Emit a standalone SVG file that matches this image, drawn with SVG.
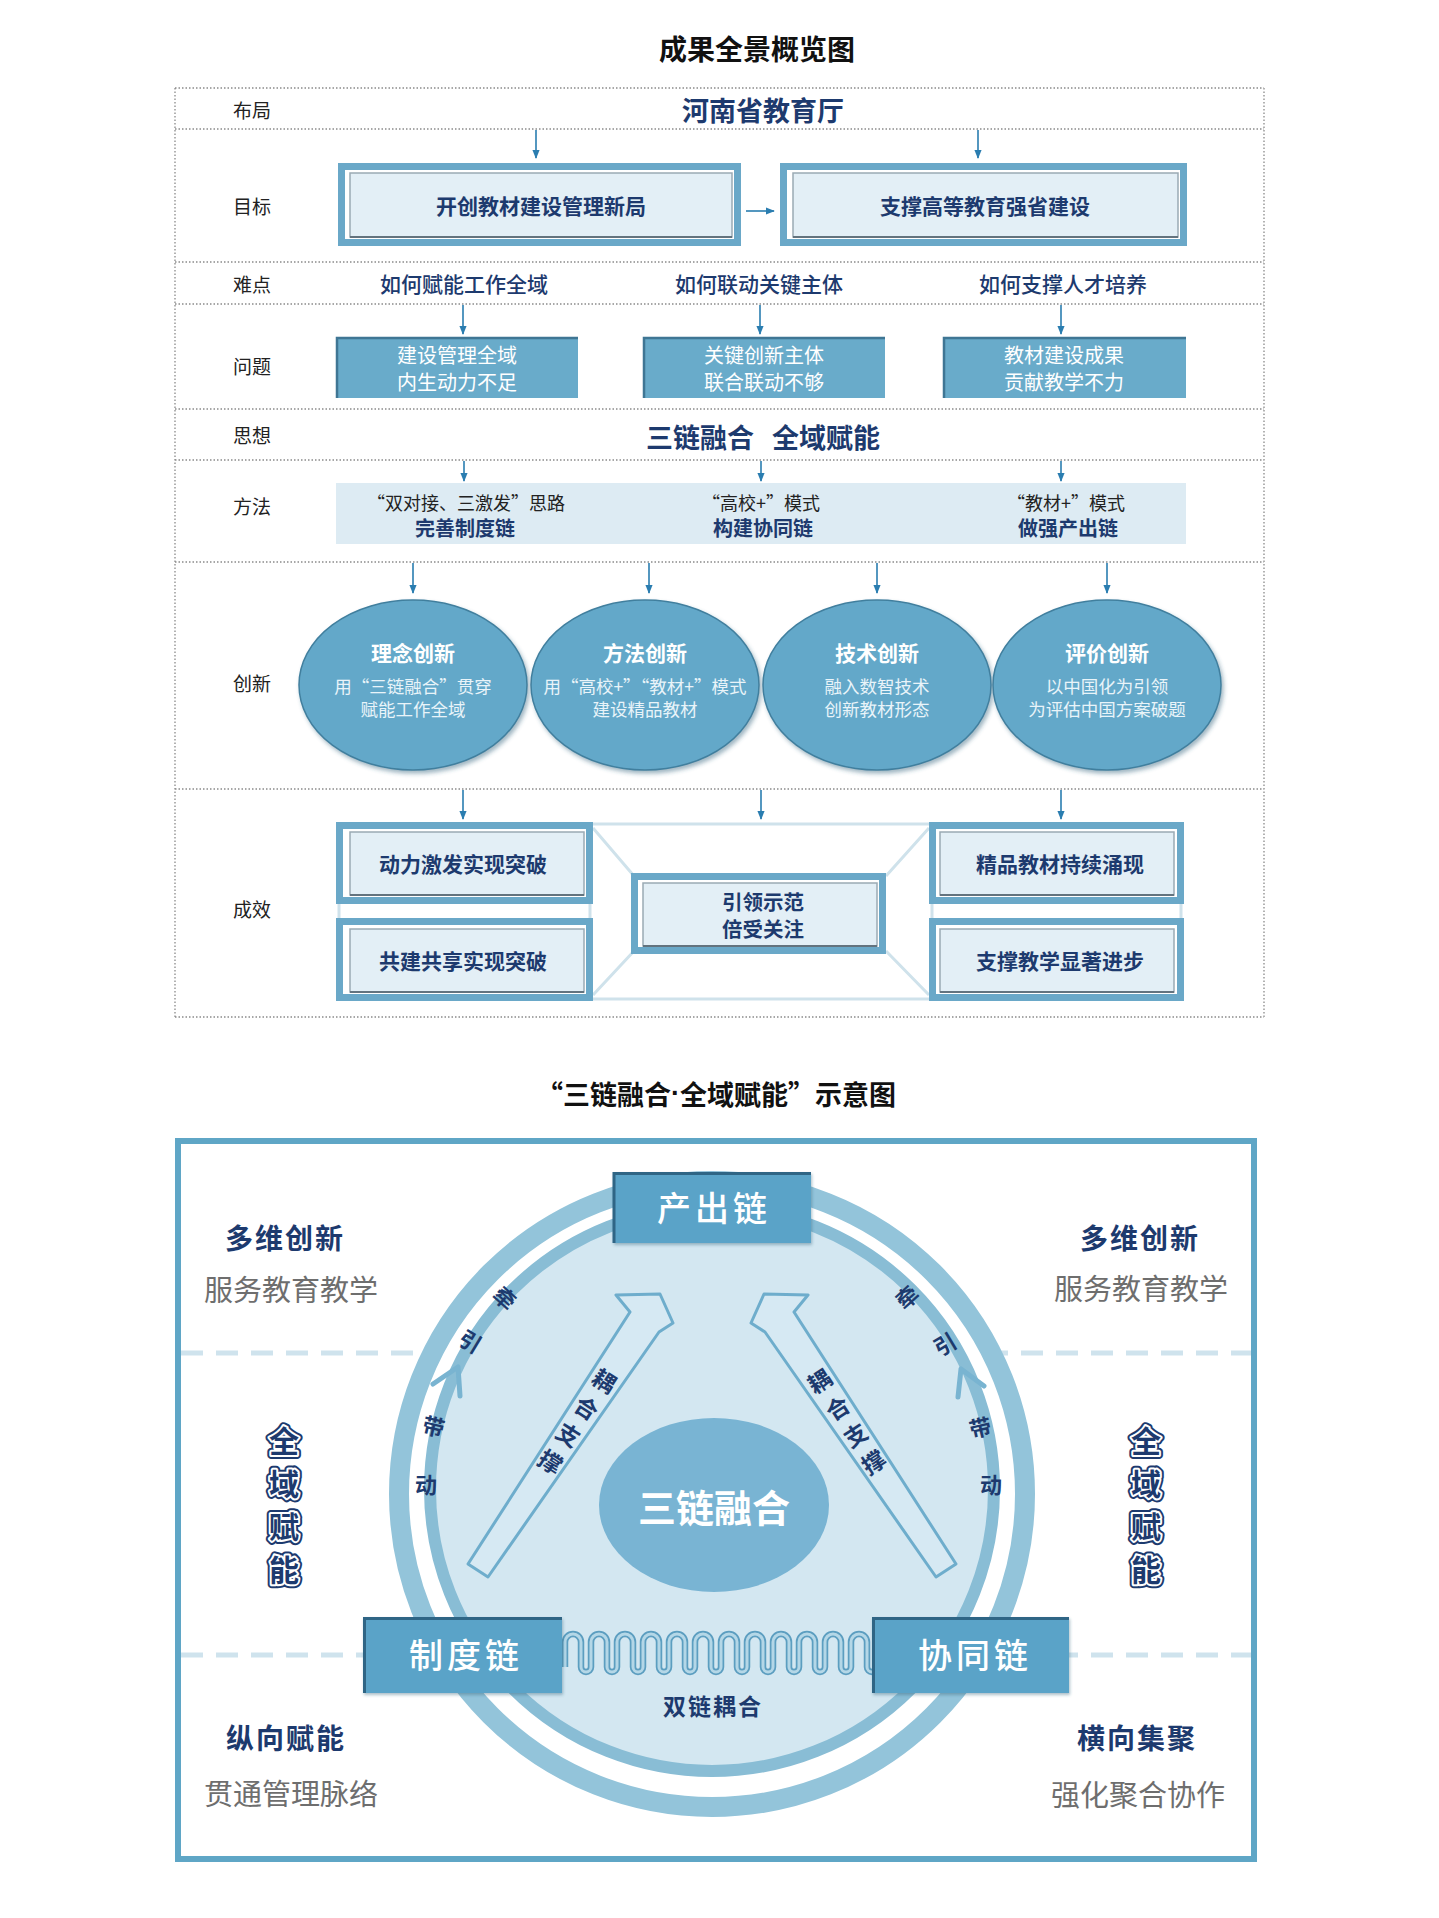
<svg xmlns="http://www.w3.org/2000/svg" width="1439" height="1918" viewBox="0 0 1439 1918">
<defs>
<marker id="ah" viewBox="0 0 10 10" refX="9" refY="5" markerWidth="9" markerHeight="9" markerUnits="userSpaceOnUse" orient="auto"><path d="M0,1 L10,5 L0,9 z" fill="#2a7db0"/></marker>
<filter id="sh" x="-10%" y="-10%" width="125%" height="130%"><feDropShadow dx="2" dy="3" stdDeviation="2" flood-color="#2f5f78" flood-opacity="0.45"/></filter>
<filter id="sh2" x="-10%" y="-10%" width="125%" height="130%"><feDropShadow dx="1" dy="2" stdDeviation="1.5" flood-color="#2f5f78" flood-opacity="0.4"/></filter>
</defs>
<style>
text{font-family:"Noto Sans CJK SC","Noto Sans",sans-serif;dominant-baseline:central;text-anchor:middle}
.t1{font-size:28px;font-weight:700;fill:#111}
.lb{font-size:19px;fill:#222}
.nvb{fill:#1d3a6e;font-weight:700}
.nv{fill:#1d3a6e;font-weight:500}
.dot{stroke:#8a8a8a;stroke-width:1.3;stroke-dasharray:1.5 2;fill:none}
.ar{stroke:#2a7db0;stroke-width:1.6;fill:none;marker-end:url(#ah)}
.gout{fill:#fff;stroke:#6aa8c8;stroke-width:7}
.gin{fill:#e3eff6;stroke:#9aaab4;stroke-width:1.5}
.gbt{stroke:#63737e;stroke-width:2;fill:none}
.pb{fill:#69abca}
.edge{stroke:#3f7694;stroke-width:2.5;fill:none}
.pt{font-size:20px;fill:#fff}
.m1{font-size:18px;fill:#222;font-weight:400}
.m2{font-size:20px;fill:#1d3a6e;font-weight:700}
.el{fill:#64a8c9;stroke:#417f9e;stroke-width:1.5}
.et{font-size:21px;font-weight:700;fill:#fff}
.es{font-size:17.5px;fill:#e9f4f9;font-weight:400}
.bt{font-size:21px}
.cn{stroke:#cfe2eb;stroke-width:3;fill:none}
.ch{fill:#5aa3c8}
.chedge{stroke:#2f6585;stroke-width:3;fill:none}
.cht{font-size:34px;fill:#fff;letter-spacing:4px;font-weight:500}
.hd{font-size:28px;letter-spacing:2px}
.gr{font-size:29px;fill:#6e6e6e}
.qy{font-size:30px;font-weight:700}
.rt{font-size:22px}
.st{font-size:23px}
</style>
<rect x="0" y="0" width="1439" height="1918" fill="#fff"/>

<g id="overview">
<text class="t1" x="757" y="48">成果全景概览图</text>
<g id="grid">
<path class="dot" d="M175 88H1264M175 129H1264M175 262H1264M175 304H1264M175 409H1264M175 460H1264M175 562H1264M175 789H1264M175 1017H1264M175 88V1017M1264 88V1017"/>
</g>
<g id="row-labels">
<text class="lb" x="252" y="109">布局</text>
<text class="lb" x="252" y="205">目标</text>
<text class="lb" x="252" y="283">难点</text>
<text class="lb" x="252" y="365">问题</text>
<text class="lb" x="252" y="434">思想</text>
<text class="lb" x="252" y="505">方法</text>
<text class="lb" x="252" y="682">创新</text>
<text class="lb" x="252" y="908">成效</text>
</g>
<g id="connectors">
<line class="ar" x1="536" y1="130" x2="536" y2="158"/>
<line class="ar" x1="978" y1="130" x2="978" y2="158"/>
<line class="ar" x1="746" y1="211" x2="774" y2="211"/>
<line class="ar" x1="463" y1="305" x2="463" y2="334"/>
<line class="ar" x1="760" y1="305" x2="760" y2="334"/>
<line class="ar" x1="1061" y1="305" x2="1061" y2="334"/>
<line class="ar" x1="464" y1="461" x2="464" y2="481"/>
<line class="ar" x1="761" y1="461" x2="761" y2="481"/>
<line class="ar" x1="1061" y1="461" x2="1061" y2="481"/>
<line class="ar" x1="413" y1="563" x2="413" y2="593"/>
<line class="ar" x1="649" y1="563" x2="649" y2="593"/>
<line class="ar" x1="877" y1="563" x2="877" y2="593"/>
<line class="ar" x1="1107" y1="563" x2="1107" y2="593"/>
<line class="ar" x1="463" y1="790" x2="463" y2="819"/>
<line class="ar" x1="761" y1="790" x2="761" y2="819"/>
<line class="ar" x1="1061" y1="790" x2="1061" y2="819"/>
</g>
<g id="n-layout"><text class="nvb" x="763" y="109" style="font-size:27px">河南省教育厅</text></g>
<g id="n-goal1">
<rect class="gout" x="341.5" y="166.5" width="396" height="76"/>
<rect class="gin" x="350" y="173" width="382" height="64"/>
<path class="gbt" d="M350 237H732"/>
<text class="nvb bt" x="541" y="205">开创教材建设管理新局</text>
</g>
<g id="n-goal2">
<rect class="gout" x="783.5" y="166.5" width="400" height="76"/>
<rect class="gin" x="793" y="173" width="385" height="64"/>
<path class="gbt" d="M793 237H1178"/>
<text class="nvb bt" x="985" y="205">支撑高等教育强省建设</text>
</g>
<g id="n-difficulty">
<text class="nv bt" x="464" y="283">如何赋能工作全域</text>
<text class="nv bt" x="759" y="283">如何联动关键主体</text>
<text class="nv bt" x="1063" y="283">如何支撑人才培养</text>
</g>
<g id="n-prob1">
<rect class="pb" x="336" y="337" width="242" height="61"/>
<path class="edge" d="M337 398V338H578"/>
<text class="pt" x="457" y="354.5">建设管理全域</text>
<text class="pt" x="457" y="381">内生动力不足</text>
</g>
<g id="n-prob2">
<rect class="pb" x="643" y="337" width="242" height="61"/>
<path class="edge" d="M644 398V338H885"/>
<text class="pt" x="764" y="354.5">关键创新主体</text>
<text class="pt" x="764" y="381">联合联动不够</text>
</g>
<g id="n-prob3">
<rect class="pb" x="943" y="337" width="243" height="61"/>
<path class="edge" d="M944 398V338H1186"/>
<text class="pt" x="1064" y="354.5">教材建设成果</text>
<text class="pt" x="1064" y="381">贡献教学不力</text>
</g>
<g id="n-thought"><text class="nvb" x="763" y="436" style="font-size:27px;word-spacing:12px">三链融合 全域赋能</text></g>
<g id="n-method">
<rect x="336" y="483" width="850" height="61" fill="#ddebf3"/>
<text class="m1" x="466" y="501.5">“双对接、三激发”思路</text>
<text class="m2" x="465" y="527">完善制度链</text>
<text class="m1" x="761" y="501.5">“高校+”模式</text>
<text class="m2" x="763" y="527">构建协同链</text>
<text class="m1" x="1066" y="501.5">“教材+”模式</text>
<text class="m2" x="1068" y="527">做强产出链</text>
</g>
<g id="n-inno1">
<ellipse class="el" cx="413" cy="685" rx="114" ry="85" filter="url(#sh)"/>
<text class="et" x="413" y="652">理念创新</text>
<text class="es" x="413" y="685">用“三链融合”贯穿</text>
<text class="es" x="413" y="708">赋能工作全域</text>
</g>
<g id="n-inno2">
<ellipse class="el" cx="645" cy="685" rx="114" ry="85" filter="url(#sh)"/>
<text class="et" x="645" y="652">方法创新</text>
<text class="es" x="645" y="685">用“高校+”“教材+”模式</text>
<text class="es" x="645" y="708">建设精品教材</text>
</g>
<g id="n-inno3">
<ellipse class="el" cx="877" cy="685" rx="114" ry="85" filter="url(#sh)"/>
<text class="et" x="877" y="652">技术创新</text>
<text class="es" x="877" y="685">融入数智技术</text>
<text class="es" x="877" y="708">创新教材形态</text>
</g>
<g id="n-inno4">
<ellipse class="el" cx="1107" cy="685" rx="114" ry="85" filter="url(#sh)"/>
<text class="et" x="1107" y="652">评价创新</text>
<text class="es" x="1107" y="685">以中国化为引领</text>
<text class="es" x="1107" y="708">为评估中国方案破题</text>
</g>
<g id="result-links">
<path class="cn" d="M593 824H929M593 999H929M593 828L634 876M886 876L929 828M593 995L634 951M886 951L929 995M339 904V918M590 904V918M932 904V918M1181 904V918"/>
</g>
<g id="n-res1">
<rect class="gout" x="339.5" y="825.5" width="250" height="75"/>
<rect class="gin" x="350" y="832" width="234" height="63"/>
<path class="gbt" d="M350 895H584"/>
<text class="nvb bt" x="463" y="863">动力激发实现突破</text>
</g>
<g id="n-res2">
<rect class="gout" x="339.5" y="921.5" width="250" height="76"/>
<rect class="gin" x="350" y="929" width="234" height="63"/>
<path class="gbt" d="M350 992H584"/>
<text class="nvb bt" x="463" y="960">共建共享实现突破</text>
</g>
<g id="n-res3">
<rect class="gout" x="634.5" y="876.5" width="248" height="74"/>
<rect class="gin" x="643" y="883" width="234" height="63"/>
<path class="gbt" d="M643 946H877"/>
<text class="nvb" x="763" y="901" style="font-size:20.5px">引领示范</text>
<text class="nvb" x="763" y="928" style="font-size:20.5px">倍受关注</text>
</g>
<g id="n-res4">
<rect class="gout" x="932.5" y="825.5" width="248" height="75"/>
<rect class="gin" x="940" y="832" width="234" height="63"/>
<path class="gbt" d="M940 895H1174"/>
<text class="nvb bt" x="1060" y="863">精品教材持续涌现</text>
</g>
<g id="n-res5">
<rect class="gout" x="932.5" y="921.5" width="248" height="76"/>
<rect class="gin" x="940" y="929" width="234" height="63"/>
<path class="gbt" d="M940 992H1174"/>
<text class="nvb bt" x="1060" y="960">支撑教学显著进步</text>
</g>
</g>

<g id="scheme">
<text class="t1" x="716" y="1093" style="font-size:27px">“三链融合<tspan style="font-family:'Liberation Sans',sans-serif">·</tspan>全域赋能”示意图</text>
<rect x="178" y="1141" width="1076" height="718" fill="#fff" stroke="#5fa6c6" stroke-width="6"/>
<path d="M181 1353H1251M181 1655H1251" stroke="#cfe3ed" stroke-width="5" stroke-dasharray="22 13" fill="none"/>
<circle cx="712" cy="1494" r="313" fill="#fff" stroke="#93c4da" stroke-width="20"/>
<circle cx="712" cy="1489" r="282" fill="#d3e7f1" stroke="#89bdd5" stroke-width="12"/>

<g id="ring-text">
<polyline points="433,1384 458,1367 460,1396" fill="none" stroke="#79b4d1" stroke-width="5" stroke-linecap="round" stroke-linejoin="round"/>
<polyline points="984,1386 961,1369 958,1397" fill="none" stroke="#79b4d1" stroke-width="5" stroke-linecap="round" stroke-linejoin="round"/>
<text class="nvb rt" x="506" y="1297" transform="rotate(42 506 1297)">牵</text>
<text class="nvb rt" x="471" y="1340" transform="rotate(31 471 1340)">引</text>
<text class="nvb rt" x="434" y="1425" transform="rotate(13 434 1425)">带</text>
<text class="nvb rt" x="426" y="1483">动</text>
<text class="nvb rt" x="906" y="1296" transform="rotate(-42 906 1296)">牵</text>
<text class="nvb rt" x="944" y="1343" transform="rotate(-31 944 1343)">引</text>
<text class="nvb rt" x="980" y="1426" transform="rotate(-13 980 1426)">带</text>
<text class="nvb rt" x="991" y="1483">动</text>
</g>

<g id="n-core">
<ellipse cx="714" cy="1505" rx="115" ry="87" fill="#79b4d3"/>
<text x="714" y="1505" style="font-size:38px;font-weight:700;fill:#fff">三链融合</text>
</g>

<g id="n-support-left">
<polygon points="468,1564 630,1312 616,1295 660,1294 673,1323 659,1332 488,1577" fill="#d6e9f3" stroke="#6eadcc" stroke-width="3" stroke-linejoin="round"/>
<text class="nvb st" x="605" y="1380" transform="rotate(33 605 1380)">耦</text>
<text class="nvb st" x="587" y="1407" transform="rotate(33 587 1407)">合</text>
<text class="nvb st" x="569" y="1434" transform="rotate(33 569 1434)">支</text>
<text class="nvb st" x="551" y="1461" transform="rotate(33 551 1461)">撑</text>
</g>
<g id="n-support-right">
<polygon points="956,1564 794,1312 808,1295 764,1294 751,1323 765,1332 936,1577" fill="#d6e9f3" stroke="#6eadcc" stroke-width="3" stroke-linejoin="round"/>
<text class="nvb st" x="819" y="1380" transform="rotate(-33 819 1380)">耦</text>
<text class="nvb st" x="837" y="1407" transform="rotate(-33 837 1407)">合</text>
<text class="nvb st" x="855" y="1434" transform="rotate(-33 855 1434)">支</text>
<text class="nvb st" x="873" y="1461" transform="rotate(-33 873 1461)">撑</text>
</g>

<g id="n-coupling">
<path d="M565 1667V1642a8 8 0 0 1 16 0V1667a5 5 0 0 0 10 0V1642a8 8 0 0 1 16 0V1667a5 5 0 0 0 10 0V1642a8 8 0 0 1 16 0V1667a5 5 0 0 0 10 0V1642a8 8 0 0 1 16 0V1667a5 5 0 0 0 10 0V1642a8 8 0 0 1 16 0V1667a5 5 0 0 0 10 0V1642a8 8 0 0 1 16 0V1667a5 5 0 0 0 10 0V1642a8 8 0 0 1 16 0V1667a5 5 0 0 0 10 0V1642a8 8 0 0 1 16 0V1667a5 5 0 0 0 10 0V1642a8 8 0 0 1 16 0V1667a5 5 0 0 0 10 0V1642a8 8 0 0 1 16 0V1667a5 5 0 0 0 10 0V1642a8 8 0 0 1 16 0V1667a5 5 0 0 0 10 0V1642a8 8 0 0 1 16 0V1667a5 5 0 0 0 10 0" fill="none" stroke="#5c9ec0" stroke-width="6.5"/>
<path d="M565 1667V1642a8 8 0 0 1 16 0V1667a5 5 0 0 0 10 0V1642a8 8 0 0 1 16 0V1667a5 5 0 0 0 10 0V1642a8 8 0 0 1 16 0V1667a5 5 0 0 0 10 0V1642a8 8 0 0 1 16 0V1667a5 5 0 0 0 10 0V1642a8 8 0 0 1 16 0V1667a5 5 0 0 0 10 0V1642a8 8 0 0 1 16 0V1667a5 5 0 0 0 10 0V1642a8 8 0 0 1 16 0V1667a5 5 0 0 0 10 0V1642a8 8 0 0 1 16 0V1667a5 5 0 0 0 10 0V1642a8 8 0 0 1 16 0V1667a5 5 0 0 0 10 0V1642a8 8 0 0 1 16 0V1667a5 5 0 0 0 10 0V1642a8 8 0 0 1 16 0V1667a5 5 0 0 0 10 0V1642a8 8 0 0 1 16 0V1667a5 5 0 0 0 10 0" fill="none" stroke="#b4d7e7" stroke-width="3"/>
<text class="nvb" x="713" y="1705" style="font-size:23px;letter-spacing:2px">双链耦合</text>
</g>

<g id="n-output">
<rect class="ch" x="613" y="1172" width="198" height="71" filter="url(#sh2)"/>
<path class="chedge" d="M614 1243V1173.5H811"/>
<text class="cht" x="714" y="1206">产出链</text>
</g>
<g id="n-system">
<rect class="ch" x="363" y="1617" width="199" height="76" filter="url(#sh2)"/>
<path class="chedge" d="M364.5 1693V1618.5H562"/>
<text class="cht" x="466" y="1653">制度链</text>
</g>
<g id="n-collab">
<rect class="ch" x="872" y="1617" width="197" height="76" filter="url(#sh2)"/>
<path class="chedge" d="M873.5 1693V1618.5H1069"/>
<text class="cht" x="975" y="1653">协同链</text>
</g>

<g id="n-quadrant-tl">
<text class="nvb hd" x="285" y="1237">多维创新</text>
<text class="gr" x="291" y="1288">服务教育教学</text>
</g>
<g id="n-quadrant-tr">
<text class="nvb hd" x="1140" y="1237">多维创新</text>
<text class="gr" x="1141" y="1287">服务教育教学</text>
</g>
<g id="n-quadrant-bl">
<text class="nvb hd" x="286" y="1737">纵向赋能</text>
<text class="gr" x="291" y="1792">贯通管理脉络</text>
</g>
<g id="n-quadrant-br">
<text class="nvb hd" x="1137" y="1737">横向集聚</text>
<text class="gr" x="1138" y="1793">强化聚合协作</text>
</g>
<g id="n-domain-left">
<text class="qy" x="284 284 284 284" y="1439 1482 1525 1568" fill="none" stroke="#1d3a6e" stroke-width="8" stroke-linejoin="round">全域赋能</text>
<text class="qy" x="284 284 284 284" y="1439 1482 1525 1568" fill="none" stroke="#fff" stroke-width="4" stroke-linejoin="round">全域赋能</text>
<text class="qy" x="284 284 284 284" y="1439 1482 1525 1568" fill="#1d3a6e">全域赋能</text>
</g>
<g id="n-domain-right">
<text class="qy" x="1146 1146 1146 1146" y="1439 1482 1525 1568" fill="none" stroke="#1d3a6e" stroke-width="8" stroke-linejoin="round">全域赋能</text>
<text class="qy" x="1146 1146 1146 1146" y="1439 1482 1525 1568" fill="none" stroke="#fff" stroke-width="4" stroke-linejoin="round">全域赋能</text>
<text class="qy" x="1146 1146 1146 1146" y="1439 1482 1525 1568" fill="#1d3a6e">全域赋能</text>
</g>
</g>
</svg>
